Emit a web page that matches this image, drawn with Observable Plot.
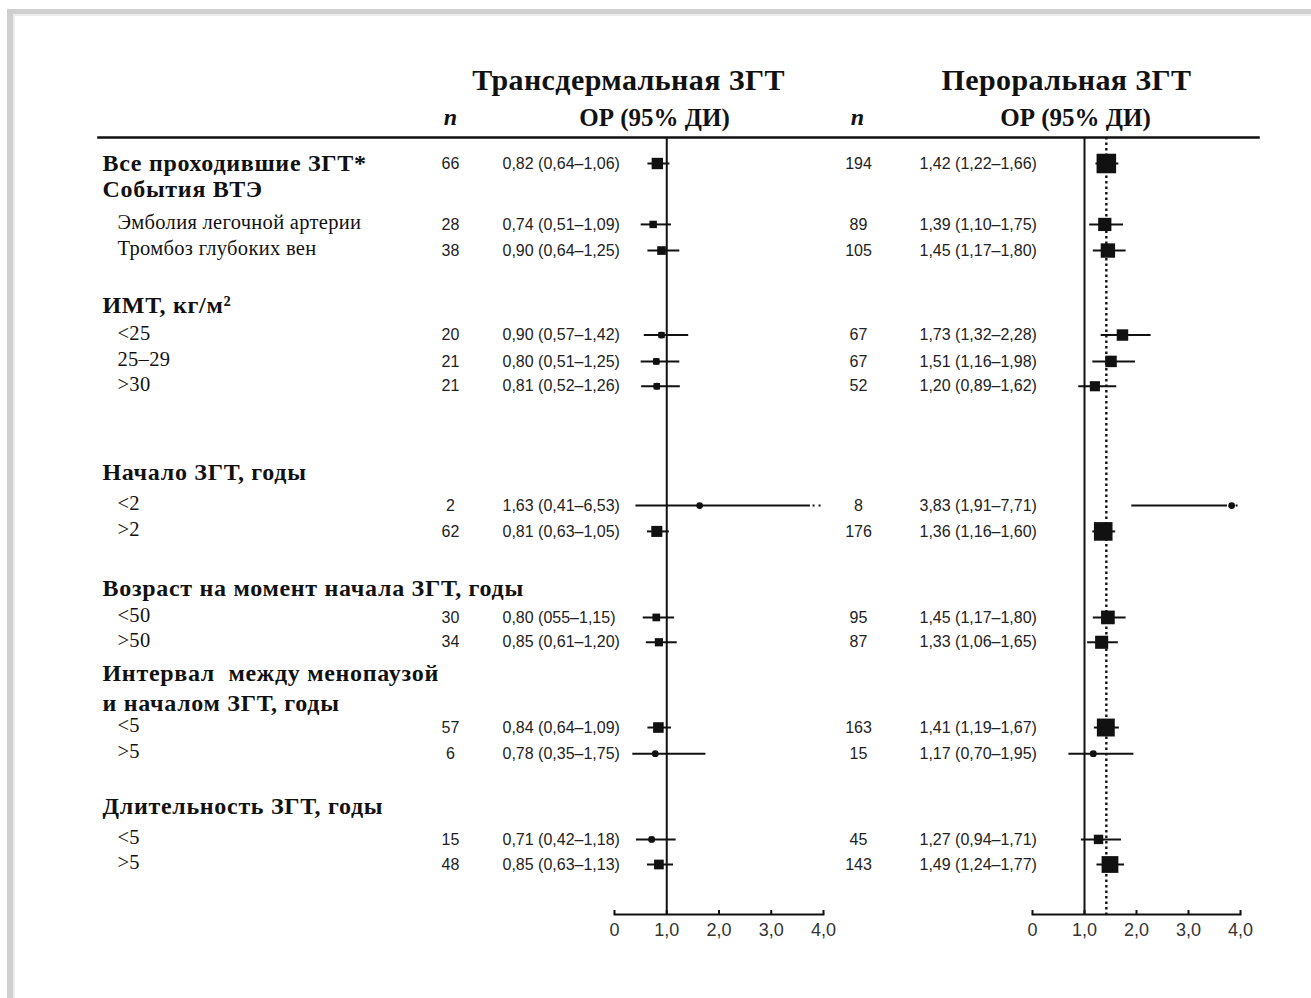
<!DOCTYPE html>
<html><head><meta charset="utf-8">
<script src="https://cdn.jsdelivr.net/npm/d3@7"></script>
<script src="https://cdn.jsdelivr.net/npm/@observablehq/plot@0.6"></script>
<style>
body{margin:0;background:#fff;}
#wrap{position:relative;width:1311px;height:998px;overflow:hidden;background:#fff;}
#border{position:absolute;left:7px;top:9px;right:0;bottom:0;border-left:6px solid #cfcfcf;border-top:5px solid #cfcfcf;box-shadow:inset 2px 2px 0 #ececec;}
#wrap svg{position:absolute;left:0;top:0;}
#wrap svg g[font-size="24"][font-weight="bold"]:not([font-style]){letter-spacing:0.7px;}
#wrap svg g[font-size="20.5"]{letter-spacing:0.3px;}
#wrap svg g[font-size="30"]{letter-spacing:0.4px;}
</style></head><body><div id="wrap"><div id="border"></div></div>
<script>
// ---- row labels (left column) ----
const rowLabels = ["Все проходившие ЗГТ*","События ВТЭ","Эмболия легочной артерии","Тромбоз глубоких вен",
  "ИМТ, кг/м²","<25","25–29",">30",
  "Начало ЗГТ, годы","<2",">2",
  "Возраст на момент начала ЗГТ, годы","<50",">50",
  "Интервал  между менопаузой","и началом ЗГТ, годы","<5",">5",
  "Длительность ЗГТ, годы","<5",">5"];
const rowIsHeader = [true,true,false,false, true,false,false,false, true,false,false, true,false,false, true,true,false,false, true,false,false];
// layout slot of each row (row units, top to bottom)
const rowSlot = [0,1.0,2.38,3.4, 5.55,6.7,7.73,8.7, 12.07,13.36,14.37, 16.6,17.73,18.7, 19.92,21.1,22.03,23.05, 25.12,26.4,27.38];
// rows that carry estimates
const dataRowIndex = [0,2,3,5,6,7,9,10,12,13,16,17,19,20];

// ---- Transdermal HRT ----
const nTrans  = [66,28,38,20,21,21,2,62,30,34,57,6,15,48];
const orTrans = [0.82,0.74,0.90,0.90,0.80,0.81,1.63,0.81,0.80,0.85,0.84,0.78,0.71,0.85];
const loTrans = [0.64,0.51,0.64,0.57,0.51,0.52,0.41,0.63,0.55,0.61,0.64,0.35,0.42,0.63];
const hiTrans = [1.06,1.09,1.25,1.42,1.25,1.26,6.53,1.05,1.15,1.20,1.09,1.75,1.18,1.13];
const txtTrans = ["0,82 (0,64–1,06)","0,74 (0,51–1,09)","0,90 (0,64–1,25)","0,90 (0,57–1,42)","0,80 (0,51–1,25)","0,81 (0,52–1,26)",
  "1,63 (0,41–6,53)","0,81 (0,63–1,05)","0,80 (055–1,15)","0,85 (0,61–1,20)","0,84 (0,64–1,09)","0,78 (0,35–1,75)","0,71 (0,42–1,18)","0,85 (0,63–1,13)"];

// ---- Oral HRT ----
const nOral  = [194,89,105,67,67,52,8,176,95,87,163,15,45,143];
const orOral = [1.42,1.39,1.45,1.73,1.51,1.20,3.83,1.36,1.45,1.33,1.41,1.17,1.27,1.49];
const loOral = [1.22,1.10,1.17,1.32,1.16,0.89,1.91,1.16,1.17,1.06,1.19,0.70,0.94,1.24];
const hiOral = [1.66,1.75,1.80,2.28,1.98,1.62,7.71,1.60,1.80,1.65,1.67,1.95,1.71,1.77];
const txtOral = ["1,42 (1,22–1,66)","1,39 (1,10–1,75)","1,45 (1,17–1,80)","1,73 (1,32–2,28)","1,51 (1,16–1,98)","1,20 (0,89–1,62)",
  "3,83 (1,91–7,71)","1,36 (1,16–1,60)","1,45 (1,17–1,80)","1,33 (1,06–1,65)","1,41 (1,19–1,67)","1,17 (0,70–1,95)","1,27 (0,94–1,71)","1,49 (1,24–1,77)"];
const pooledOral = 1.42;

const xTicks = [0,1,2,3,4];
const xTickLabels = ["0","1,0","2,0","3,0","4,0"];

// ---- shared layout ----
const W = 1311, H = 998;
const yScale = {domain:[0,27.38], range:[163,864], axis:null};
const SERIF = "Liberation Serif, Times New Roman, serif";
const SANS = "Liberation Sans, Arial, sans-serif";

const rows = rowLabels.map((label,i)=>({label, header: rowIsHeader[i], slot: rowSlot[i]}));
function series(n, or, lo, hi, txt){
  return dataRowIndex.map((ri,i)=>({slot: rowSlot[ri], n:n[i], or:or[i], lo:lo[i], hi:hi[i], txt:txt[i]}));
}
const trans = series(nTrans, orTrans, loTrans, hiTrans, txtTrans);
const oral  = series(nOral, orOral, loOral, hiOral, txtOral);

const wrap = document.getElementById("wrap");

const head = {frameAnchor:"top", lineAnchor:"middle", fontFamily:SERIF, fontWeight:"bold", fill:"#111"};
// table text plot
const table = Plot.plot({
  width:W, height:H, marginTop:137, marginLeft:98, marginRight:53, marginBottom:84,
  x:{type:"identity", axis:null}, y:yScale,
  style:{background:"transparent", overflow:"visible"},
  marks:[
    Plot.frame({anchor:"top", strokeWidth:2.6, stroke:"#111"}),
    Plot.text(["Трансдермальная ЗГТ"], {...head, x:628, dy:-57, fontSize:30}),
    Plot.text(["Пероральная ЗГТ"], {...head, x:1066, dy:-57, fontSize:30}),
    Plot.text(["n"], {...head, x:450, dy:-20, fontStyle:"italic", fontSize:24}),
    Plot.text(["n"], {...head, x:857, dy:-20, fontStyle:"italic", fontSize:24}),
    Plot.text(["ОР (95% ДИ)"], {...head, x:654, dy:-20, fontSize:25}),
    Plot.text(["ОР (95% ДИ)"], {...head, x:1075, dy:-20, fontSize:25}),
    Plot.text(rows.filter(d=>d.header), {x:102, y:"slot", text:"label", textAnchor:"start", fontFamily:SERIF, fontWeight:"bold", fontSize:24, fill:"#111"}),
    Plot.text(rows.filter(d=>!d.header), {x:117, y:"slot", dy:-2, text:"label", textAnchor:"start", fontFamily:SERIF, fontSize:20.5, fill:"#111"}),
    Plot.text(trans, {x:450, y:"slot", text:"n", fontFamily:SANS, fontSize:16, fill:"#222"}),
    Plot.text(trans, {x:502, y:"slot", text:"txt", textAnchor:"start", fontFamily:SANS, fontSize:16, fill:"#222"}),
    Plot.text(oral, {x:858, y:"slot", text:"n", fontFamily:SANS, fontSize:16, fill:"#222"}),
    Plot.text(oral, {x:919, y:"slot", text:"txt", textAnchor:"start", fontFamily:SANS, fontSize:16, fill:"#222"})
  ]
});
wrap.appendChild(table);

const XMAX = 4, TRUNC = 3.75;
function forest(data, x0, x1, ref){
  return Plot.plot({
    width:W, height:H, marginLeft:x0, marginRight:W-x1, marginTop:137, marginBottom:84,
    x:{domain:[0,XMAX]}, y:yScale,
    r:{type:"sqrt", domain:[0,200], range:[0,11.2]},
    style:{background:"transparent", overflow:"visible", fontFamily:SANS, fontSize:"18px", color:"#111"},
    marks:[
      Plot.ruleX([1], {stroke:"#111", strokeWidth:2}),
      ref != null ? Plot.ruleX([ref], {stroke:"#111", strokeWidth:2.4, strokeDasharray:"2.5,3"}) : null,
      Plot.ruleY(data, {y:"slot", x1:"lo", x2:d=>d.hi > XMAX ? TRUNC : d.hi, stroke:"#111", strokeWidth:2}),
      Plot.ruleY(data.filter(d=>d.hi > XMAX), {y:"slot", x1:d=>TRUNC+0.05, x2:d=>XMAX, stroke:"#111", strokeWidth:2, strokeDasharray:"2,4"}),
      Plot.dot(data, {x:"or", y:"slot", r:3.4, fill:"#111"}),
      Plot.dot(data, {x:"or", y:"slot", r:"n", symbol:"square", fill:"#111"}),
      Plot.frame({anchor:"bottom", stroke:"#111", strokeWidth:2}),
      Plot.axisX({ticks:xTicks, tickFormat:(d)=>xTickLabels[xTicks.indexOf(d)], tickSize:-4, tickPadding:13, stroke:"#111", strokeWidth:2, fill:"#333"})
    ]
  });
}
wrap.appendChild(forest(trans, 614, 823, null));
wrap.appendChild(forest(oral, 1032, 1240, pooledOral));
</script></body></html>
